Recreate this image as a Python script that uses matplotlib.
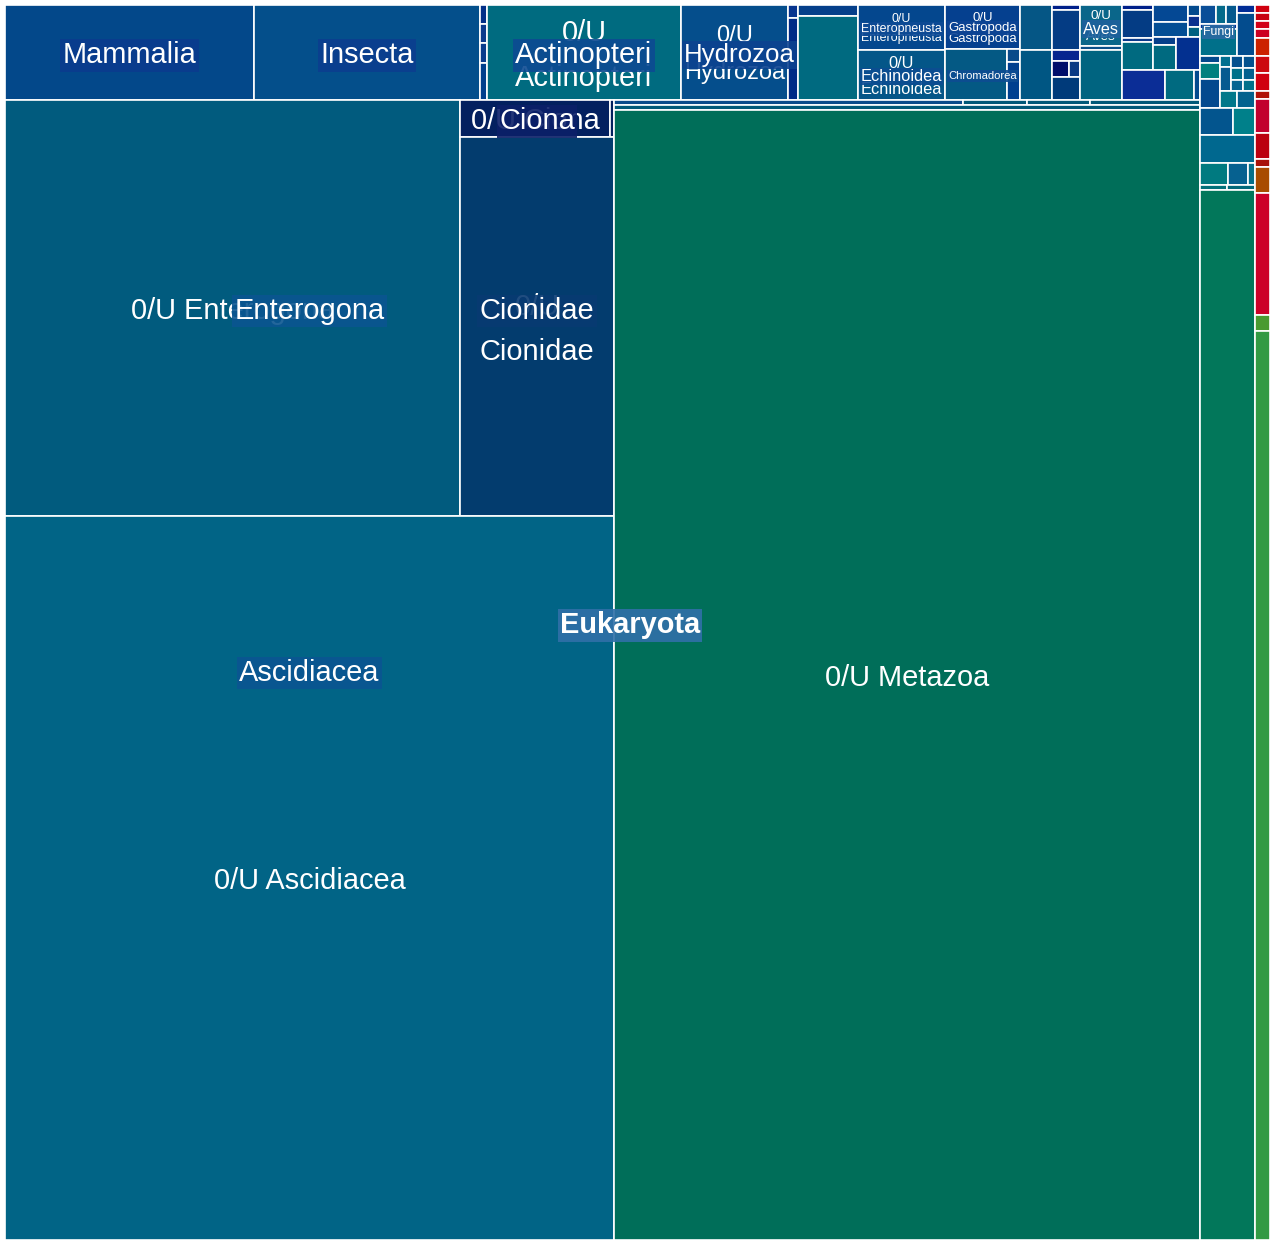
import matplotlib
matplotlib.use("Agg")
import matplotlib.pyplot as plt
from matplotlib.patches import Rectangle

FONT = "Liberation Sans"

# ---------------- data: tile areas (px^2) ----------------
main_labels = ["Mammalia", "Insecta", "0/U Actinopteri", "0/U Hydrozoa",
               "0/U Enteropneusta", "0/U Echinoidea", "0/U Gastropoda",
               "0/U Aves", "0/U Enterogona", "0/U Ciona", "0/U Cionidae",
               "0/U Ascidiacea", "0/U Metazoa"]
main_values = [23655, 21470, 18430, 10165, 3915, 4350, 3300, 1722,
               189280, 5550, 58366, 440916, 662180]
main_colors = ["#03488a", "#044f8b", "#006b80", "#054e8c", "#04478e", "#045688",
               "#05408f", "#0a668a", "#015b7e", "#03205f", "#033c6e", "#016486",
               "#006e59"]

# small unlabelled tiles of the Metazoa top strip
colA_values = [133, 133, 140, 259]
colA_colors = ["#022f88", "#0b3a8c", "#0a3c8c", "#003f8c"]
hyd_small_values = [130, 820]
hyd_small_colors = ["#07348f", "#002a86"]
colB_values = [660, 5040]
colB_colors = ["#053f8a", "#006a80"]
chrom_values = [3162]
chrom_colors = ["#045984"]
chrom_small_values = [169, 494]
chrom_small_colors = ["#0a4a8a", "#003f8f"]
colE_values = [1440, 1600]
colE_colors = ["#055685", "#005683"]
colF_top_values = [140, 1120, 308]
colF_top_colors = ["#00208a", "#043c84", "#07258f"]
colF_row_values = [272, 176]
colF_row_colors = ["#000e6b", "#0b3a84"]
colF_bottom_values = [644]
colF_bottom_colors = ["#003a7a"]
aves_small_values = [168]
aves_small_colors = ["#0a4f8a"]
colG_bottom_values = [2100]
colG_bottom_colors = ["#006480"]
colH_sub1_values = [155, 868, 124, 868]
colH_sub1_colors = ["#00208a", "#043c84", "#0a3a8a", "#006a80"]
colH_sub2a_values = [595, 525]
colH_sub2a_colors = ["#044894", "#044e94"]
colH_sub2b_values = [132, 132, 120]
colH_sub2b_colors = ["#034a8e", "#0a2f8e", "#006080"]
colH_sub2c_values = [184, 575]
colH_sub2c_colors = ["#053f8a", "#006a80"]
colH_sub2d_values = [792]
colH_sub2d_colors = ["#033090"]
colH_lower_values = [1290, 870, 180]
colH_lower_colors = ["#0b2d96", "#006a80", "#034a8e"]
ciona_small_values = [148]
ciona_small_colors = ["#03205f"]
met_row1_values = [1745, 320, 315, 550]
met_row1_colors = ["#0a4a8a", "#005878", "#005878", "#005878"]
met_row2_values = [2930]
met_row2_colors = ["#005878"]

# Fungi / other eukaryote column
fungi_top_values = [304, 190, 209]
fungi_top_colors = ["#0a4e98", "#046a8a", "#04598e"]
fungi_mid_values = [185]
fungi_mid_colors = ["#06309a"]
fungi_main_values = [999]
fungi_main_colors = ["#00708a"]
fungi_right_values = [144, 774]
fungi_right_colors = ["#002c96", "#034c8e"]
fb2_left_values = [140, 320, 580]
fb2_left_colors = ["#03498c", "#00807f", "#03498e"]
fb2_c1_values = [121, 264]
fb2_c1_colors = ["#006f8f", "#055a90"]
fb2_c2_values = [144, 144, 132]
fb2_c2_colors = ["#04508e", "#00708a", "#066592"]
fb2_c3_values = [144, 144, 132]
fb2_c3_colors = ["#04528e", "#04608e", "#00708a"]
fb2_bottom_values = [289, 306]
fb2_bottom_colors = ["#00788a", "#03628e"]
fb3_values = [891, 594]
fb3_colors = ["#03558e", "#00808a"]
fb4_values = [1540]
fb4_colors = ["#00688f"]
fb5_values = [616, 440, 154]
fb5_colors = ["#007a80", "#066190", "#04708a"]
fb6_values = [135, 140]
fb6_colors = ["#00707a", "#00687a"]
euk_green_values = [57750]
euk_green_colors = ["#02775a"]

# non-eukaryote column on the right
other_values = [120, 120, 120, 135, 270, 255, 270, 120, 510, 390, 120, 390,
                1830, 240, 13635]
other_colors = ["#d0000f", "#c80010", "#d20018", "#cc0022", "#cc2200", "#cc0a10",
                "#d00010", "#b01208", "#c2002e", "#bb0010", "#a81208", "#a84c00",
                "#cc0028", "#4a9a30", "#339a44"]

# label boxes
box_colors = {"Mammalia": "#0a3b8e", "Insecta": "#0b3e8f", "Actinopteri": "#0d4a92",
              "Hydrozoa": "#0c4290", "Enteropneusta": "#0f4b95", "Echinoidea": "#0c4c92",
              "Gastropoda": "#0d4494", "Chromadorea": "#0e4c92", "Aves": "#1d609c",
              "Fungi": "#2a6aa2", "Ciona": "#0b1f68", "Cionidae": "#083a72",
              "Enterogona": "#0b5590", "Ascidiacea": "#0b5592", "Eukaryota": "#3070a8"}

MV = dict(zip(main_labels, main_values))
MC = dict(zip(main_labels, main_colors))


# ---------------- tree helpers ----------------
def leaf(label, value, color):
    return {"label": label, "value": value, "color": color, "children": None}


def main_leaf(label):
    return leaf(label, MV[label], MC[label])


def group(label, split, children):
    return {"label": label, "split": split, "children": children,
            "value": sum(c["value"] for c in children)}


def stack(values, colors, split):
    return group("", split, [leaf("", v, c) for v, c in zip(values, colors)])


top_strip = group("", "h", [
    main_leaf("Mammalia"),
    main_leaf("Insecta"),
    stack(colA_values, colA_colors, "v"),
    group("Actinopteri", "v", [main_leaf("0/U Actinopteri")]),
    group("Hydrozoa", "h", [main_leaf("0/U Hydrozoa"),
                            stack(hyd_small_values, hyd_small_colors, "v")]),
    stack(colB_values, colB_colors, "v"),
    group("", "v", [group("Enteropneusta", "v", [main_leaf("0/U Enteropneusta")]),
                    group("Echinoidea", "v", [main_leaf("0/U Echinoidea")])]),
    group("", "v", [group("Gastropoda", "v", [main_leaf("0/U Gastropoda")]),
                    group("Chromadorea", "h", [stack(chrom_values, chrom_colors, "v"),
                                               stack(chrom_small_values, chrom_small_colors, "v")])]),
    stack(colE_values, colE_colors, "v"),
    group("", "v", [stack(colF_top_values, colF_top_colors, "v"),
                    stack(colF_row_values, colF_row_colors, "h"),
                    stack(colF_bottom_values, colF_bottom_colors, "v")]),
    group("", "v", [group("Aves", "v", [main_leaf("0/U Aves"),
                                        stack(aves_small_values, aves_small_colors, "v")]),
                    stack(colG_bottom_values, colG_bottom_colors, "v")]),
    group("", "v", [
        group("", "h", [stack(colH_sub1_values, colH_sub1_colors, "v"),
                        group("", "v", [
                            group("", "h", [stack(colH_sub2a_values, colH_sub2a_colors, "v"),
                                            stack(colH_sub2b_values, colH_sub2b_colors, "v")]),
                            group("", "h", [stack(colH_sub2c_values, colH_sub2c_colors, "v"),
                                            stack(colH_sub2d_values, colH_sub2d_colors, "v")])])]),
        stack(colH_lower_values, colH_lower_colors, "h")]),
])

ascidiacea = group("Ascidiacea", "v", [
    group("Enterogona", "h", [
        main_leaf("0/U Enterogona"),
        group("Cionidae", "v", [
            group("Ciona", "h", [main_leaf("0/U Ciona"),
                                 stack(ciona_small_values, ciona_small_colors, "v")]),
            main_leaf("0/U Cionidae")])]),
    main_leaf("0/U Ascidiacea")])

met_right = group("", "v", [stack(met_row1_values, met_row1_colors, "h"),
                            stack(met_row2_values, met_row2_colors, "h"),
                            main_leaf("0/U Metazoa")])

metazoa = group("", "v", [top_strip, group("", "h", [ascidiacea, met_right])])

euk_rest = group("", "v", [
    group("", "h", [group("Fungi", "v", [stack(fungi_top_values, fungi_top_colors, "h"),
                                         stack(fungi_mid_values, fungi_mid_colors, "v"),
                                         stack(fungi_main_values, fungi_main_colors, "v")]),
                    stack(fungi_right_values, fungi_right_colors, "v")]),
    group("", "h", [stack(fb2_left_values, fb2_left_colors, "v"),
                    group("", "v", [group("", "h", [stack(fb2_c1_values, fb2_c1_colors, "v"),
                                                    stack(fb2_c2_values, fb2_c2_colors, "v"),
                                                    stack(fb2_c3_values, fb2_c3_colors, "v")]),
                                    stack(fb2_bottom_values, fb2_bottom_colors, "h")])]),
    stack(fb3_values, fb3_colors, "h"),
    stack(fb4_values, fb4_colors, "h"),
    stack(fb5_values, fb5_colors, "h"),
    stack(fb6_values, fb6_colors, "h"),
    stack(euk_green_values, euk_green_colors, "h"),
])

root = group("", "h", [group("Eukaryota", "h", [metazoa, euk_rest]),
                       stack(other_values, other_colors, "v")])


# ---------------- layout ----------------
def layout(node, x0, y0, x1, y1, depth=0):
    node["rect"] = (x0, y0, x1, y1)
    node["depth"] = depth
    ch = node["children"]
    if not ch:
        return
    total = float(sum(c["value"] for c in ch))
    pos = x0 if node["split"] == "h" else y0
    for c in ch:
        frac = c["value"] / total
        if node["split"] == "h":
            w = (x1 - x0) * frac
            layout(c, pos, y0, pos + w, y1, depth + 1)
        else:
            w = (y1 - y0) * frac
            layout(c, x0, pos, x1, pos + w, depth + 1)
        pos += w


W_PX, H_PX = 1270, 1240
fig = plt.figure(figsize=(W_PX / 100, H_PX / 100), dpi=100)
ax = fig.add_axes([0, 0, 1, 1])
ax.set_xlim(0, W_PX)
ax.set_ylim(H_PX, 0)
ax.axis("off")

layout(root, 5, 5, 1270, 1240)

nodes = []


def walk(n):
    nodes.append(n)
    if n["children"]:
        for c in n["children"]:
            walk(c)


walk(root)

for n in nodes:
    if not n["children"]:
        x0, y0, x1, y1 = n["rect"]
        ax.add_patch(Rectangle((x0, y0), x1 - x0, y1 - y0, facecolor=n["color"],
                               edgecolor="white", linewidth=1.2, zorder=1))

renderer = fig.canvas.get_renderer()
_em_cache = {}


def em(s, weight):
    key = (s, weight)
    if key not in _em_cache:
        t = ax.text(0, 0, s, fontsize=72, fontfamily=FONT, fontweight=weight)
        _em_cache[key] = t.get_window_extent(renderer).width / 100.0
        t.remove()
    return _em_cache[key]


PAD = 6
MAXPX = 29
maxdepth = max(n["depth"] for n in nodes)
for n in nodes:
    lab = n["label"]
    if not lab:
        continue
    weight = "bold" if lab == "Eukaryota" else "normal"
    x0, y0, x1, y1 = n["rect"]
    w, h = x1 - x0, y1 - y0
    size = min(MAXPX, (w - PAD) / em(lab, weight), (h - PAD) / 1.0)
    lines = [lab]
    if " " in lab and size < MAXPX - 0.01:
        a, b = lab.split(" ", 1)
        two = min(MAXPX, (w - PAD) / max(em(a, weight), em(b, weight)), (h - PAD) / 2.6)
        if two >= size:
            lines = [a, b]
            size = two
    if size < 6:
        continue
    cx, cy = (x0 + x1) / 2, (y0 + y1) / 2 + 0.1 * size
    ys = [cy] if len(lines) == 1 else [cy - 0.78 * size, cy + 0.78 * size]
    z = 10 + (maxdepth - n["depth"])
    bc = box_colors.get(lab)
    for line, yy in zip(lines, ys):
        kw = {}
        if bc:
            kw["bbox"] = dict(boxstyle="square,pad=0.08", facecolor=bc,
                              edgecolor="none", alpha=0.9)
        ax.text(cx, yy, line, fontsize=size * 0.72, fontfamily=FONT, fontweight=weight,
                color="white", ha="center", va="center", zorder=z, **kw)

fig.savefig("out.png", dpi=100, facecolor="white")
